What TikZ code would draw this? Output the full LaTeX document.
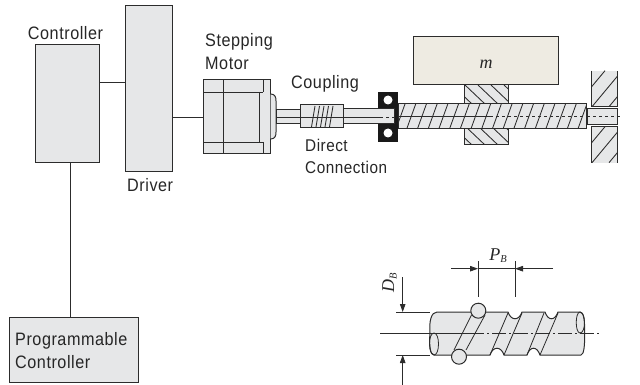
\documentclass[tikz,border=0pt]{standalone}
\usepackage{fontspec}
\setmainfont[FakeStretch=0.9,LetterSpace=3]{Liberation Sans}
\newfontfamily\serifit{Liberation Serif}
\usetikzlibrary{arrows.meta}
\definecolor{partgray}{HTML}{E6E7E8}
\definecolor{masscream}{HTML}{EEEBE2}
\definecolor{inkgray}{HTML}{2C2C2C}
\tikzset{
  block/.style={draw=inkgray, fill=partgray, line width=1pt, inner sep=0pt, outer sep=0pt},
  part/.style={draw=inkgray, fill=partgray, line width=1pt},
  wire/.style={draw=inkgray, line width=0.9pt},
  thin line/.style={draw=inkgray, line width=0.8pt},
  hatch/.style={draw=inkgray, line width=0.85pt},
  label/.style={inner sep=0pt, align=left, text=black!85, font=\fontsize{18}{22.5}\selectfont},
  dim/.style={draw=inkgray, line width=0.8pt},
  dimtip/.style={dim, -{Triangle[length=8pt,width=5.5pt]}},
  var/.style={inner sep=0pt, text=black!85, font=\fontsize{18}{18}\selectfont\serifit\itshape}
}
\newcommand{\subB}{\raisebox{-2.5pt}{\fontsize{10.5}{10.5}\selectfont B}}
\begin{document}
\begin{tikzpicture}[x=1pt,y=-1pt]
  \useasboundingbox (0,0) rectangle (640,385);
  % control side
  \node[block, minimum width=64pt, minimum height=118pt] (controller) at (67,104) {};
  \node[block, minimum width=46.5pt, minimum height=166pt] (driver) at (148.75,89) {};
  \node[block, minimum width=129pt, minimum height=65pt] (plc) at (73.5,349.5) {};
  \node[label, anchor=base] (controllerlabel) at (65.5,40) {Controller};
  \node[label, anchor=base west] (driverlabel) at (127,191) {Driver};
  \node[label, anchor=base west, text width=110pt] (plclabel) at (15,345.5) {Programmable\\Controller};
  \node[label, anchor=base west, text width=70pt] (motorlabel) at (205,47) {Stepping\\Motor};
  \node[label, anchor=base west] (couplinglabel) at (291,89) {Coupling};
  \node[label, anchor=base west, text width=90pt, font=\fontsize{17}{22.5}\selectfont] (directlabel) at (305,151.5) {Direct\\Connection};

  % motor
  \node[block, minimum width=67.5pt, minimum height=74pt] (motor) at (236.75,117) {};
  \draw[part] (motor.east |- 0,94) .. controls (275,94) and (276,97) .. (276,101) -- (276,132)
    .. controls (276,136) and (275,139) .. (motor.east |- 0,139);
  \draw[thin line] (223,80) -- (223,154);
  \draw[thin line] (203,92) -- (263,92) (203,142) -- (263,142);
  \draw[thin line] (259,92) -- (259,142) (263,80) -- (263,92) (263,142) -- (263,154);
  \draw[wire] (controller.east |- 0,82.5) -- (driver.west |- 0,82.5);
  \draw[wire] (driver.east |- motor.west) -- (motor.west);
  \draw[wire] (controller.south -| 70.5,0) -- (plc.north -| 70.5,0);

  % bearing, shaft and coupling
  \node[draw=none, fill=black!90, minimum width=20pt, minimum height=50pt, inner sep=0pt] (bearing) at (387.7,117) {};
  \fill[white] (388,100) circle (4.5) (388,133) circle (4.5);
  \draw[part] (276,110) rectangle (300,124);
  \draw[part] (342,109) rectangle (394,124);
  \node[block, minimum width=43pt, minimum height=23pt] (coupling) at (321.5,116.5) {};
  \foreach \x in {315,319.5,324,328.5,333}
    \draw[hatch] (\x,106) -- (\x-3.5,127);
  \draw[thin line] (276,117) -- (380,117);
  \draw[thin line, dashed] (380,117) -- (394,117);

  % screw
  \draw[part] (398,104) rectangle (586.7,129);
  \begin{scope}
    \clip (398,104) rectangle (586.7,129);
    \foreach \x in {0,...,18}
      \draw[hatch] (396+\x*10.7,129) -- (405+\x*10.7,104);
  \end{scope}
  \draw[thin line] (398,116.7) -- (490,116.7);
  \draw[thin line, dashed] (490,116.7) -- (586.7,116.7);

  % mass and nut
  \node[block, fill=masscream, minimum width=145pt, minimum height=48.5pt] (mass) at (486,60.75) {};
  \node[var] (masslabel) at (486,64) {m};
  \draw[part] (464,85) rectangle (508,104);
  \draw[part] (464,129) rectangle (508,144.7);
  \begin{scope}
    \clip (464,85) rectangle (508,104);
    \foreach \x in {0,...,4}
      \draw[hatch] (452+\x*13,85) -- (472+\x*13,104);
  \end{scope}
  \begin{scope}
    \clip (464,129) rectangle (508,144.7);
    \foreach \x in {0,...,4}
      \draw[hatch] (452+\x*13,126) -- (472+\x*13,145);
  \end{scope}

  % support
  \fill[partgray] (591.7,70.7) rectangle (617,106.7);
  \fill[partgray] (591.7,126.7) rectangle (617,162.7);
  \begin{scope}
    \clip (591.7,70.7) rectangle (617,106.7);
    \foreach \x in {0,1,2}
      \draw[hatch] (575+\x*17,106.7) -- (605+\x*17,70.7);
  \end{scope}
  \begin{scope}
    \clip (591.7,126.7) rectangle (617,162.7);
    \foreach \x in {0,1,2}
      \draw[hatch] (575+\x*17,162.7) -- (605+\x*17,126.7);
  \end{scope}
  \draw[part, fill=none] (591.7,70.7) -- (591.7,106.7) -- (617,106.7) -- (617,70.7);
  \draw[part, fill=none] (591.7,162.7) -- (591.7,126.7) -- (617,126.7) -- (617,162.7);
  \draw[part] (587,109) rectangle (617,124.7);
  \draw[thin line, dashed] (587,116.7) -- (620,116.7);

  % ball screw detail
  \draw[part] (430,333) .. controls (429,322) and (431,312) .. (437,312) -- (508,312)
    .. controls (511,321) and (519,321) .. (522,312) -- (545,312)
    .. controls (548,321) and (555,321) .. (558,312) -- (580,312)
    .. controls (584,312) and (585,322) .. (584.5,333)
    .. controls (585,344) and (584,355) .. (581,355) -- (540,355)
    .. controls (537,346) and (530,346) .. (527,355) -- (504,355)
    .. controls (501,346) and (493,346) .. (490,355) -- (434,355)
    .. controls (430,355) and (429,344) .. (430,333) -- cycle;
  \draw[thin line] (434,355) .. controls (440,355) and (440,333) .. (434,333);
  \draw[thin line] (434,355) .. controls (428,355) and (428,333) .. (434,333);
  \draw[thin line] (580,312) .. controls (575,312) and (575,333) .. (580,333);
  \draw[thin line] (580,312) .. controls (586,312) and (586,333) .. (580,333);
  \draw[thin line] (471.5,315) -- (454,350) (485,315) -- (466,350);
  \draw[thin line] (508,313) -- (490,355) (522,313) -- (504,355);
  \draw[thin line] (544,313) -- (527,355) (558,313) -- (540,355);
  \draw[part] (478.3,310.7) circle (7.5);
  \draw[part] (459,356.7) circle (7.5);
  \draw[thin line] (380,333.3) -- (470,333.3);
  \draw[thin line, dash pattern=on 14pt off 3pt on 2pt off 3pt] (470,333.3) -- (599,333.3);

  % dimensions
  \draw[dim] (478,261) -- (478,296.7) (515,261) -- (515,296.7);
  \coordinate (pleft) at (478,268.7);
  \coordinate (pright) at (515,268.7);
  \draw[dimtip] (451,268.7) -- (pleft);
  \draw[dimtip] (553,268.7) -- (pright);
  \draw[dim] (pleft) -- (pright);
  \node[var, anchor=base] (pitchlabel) at (498,260) {P\subB};
  \draw[dim] (396,312) -- (430,312) (396,355) -- (430,355);
  \coordinate (dtop) at (402.7,312);
  \coordinate (dbottom) at (402.7,355);
  \draw[dimtip] (402.7,277) -- (dtop);
  \draw[dimtip] (402.7,385) -- (dbottom);
  \node[var, rotate=90, anchor=base] (diameterlabel) at (394,283) {D\subB};
\end{tikzpicture}
\end{document}
